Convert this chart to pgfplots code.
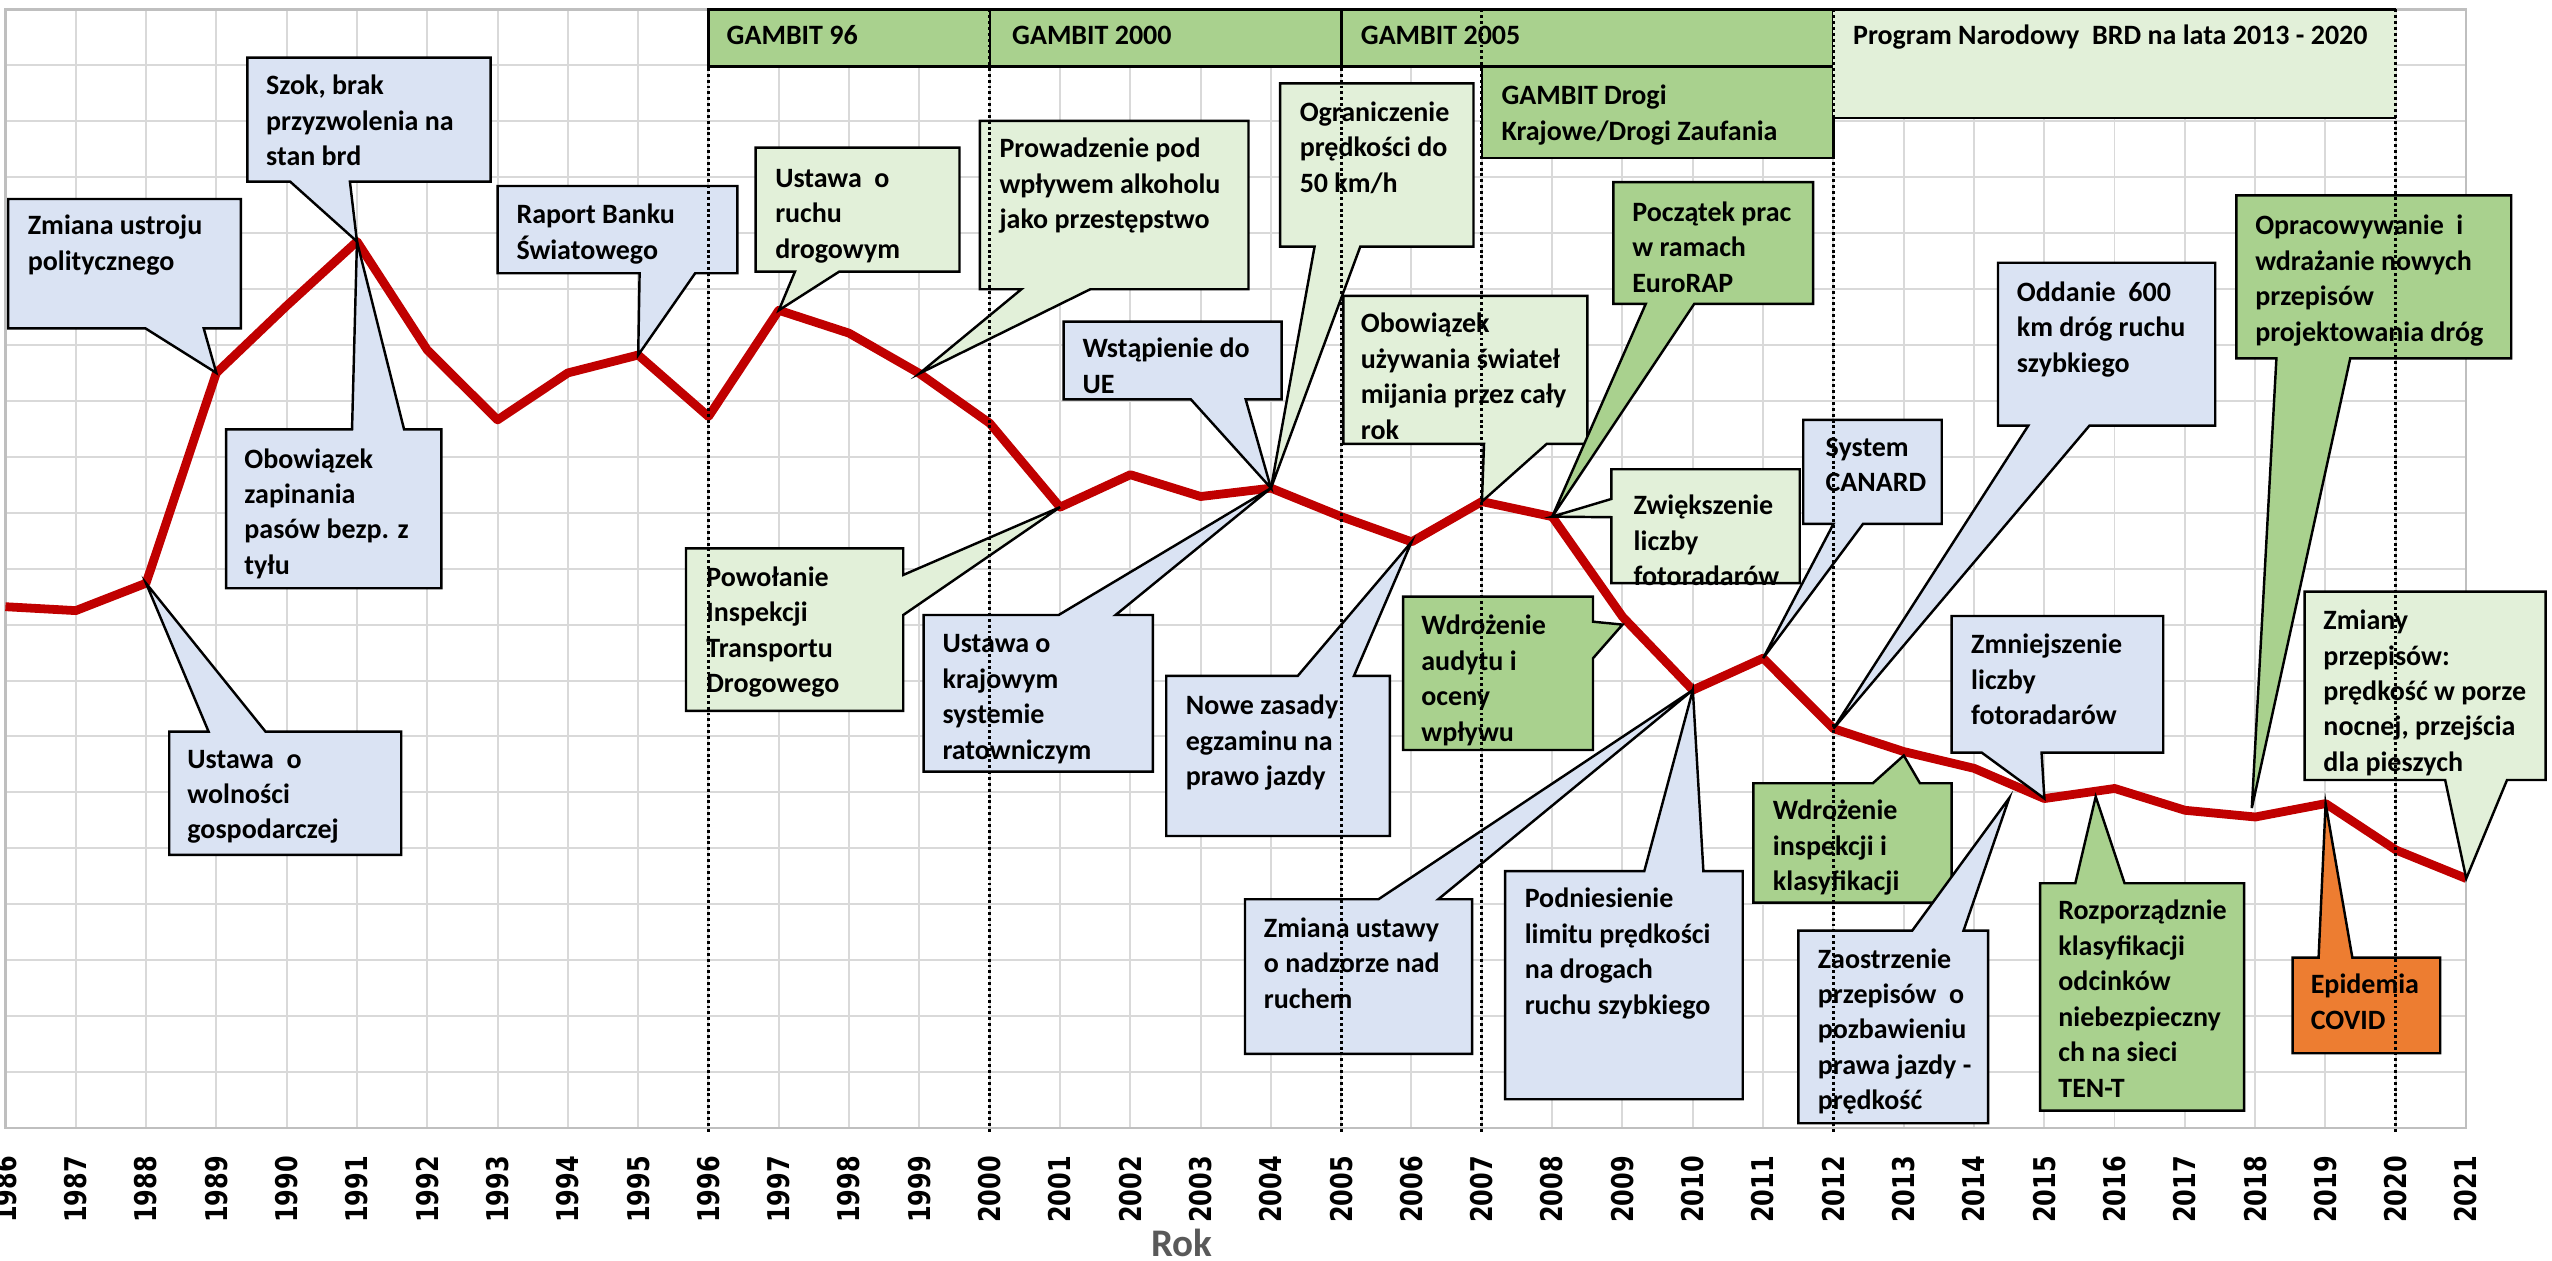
\documentclass[border=0pt]{standalone}
\usepackage{fontspec}
\setmainfont{Carlito}
\newfontfamily\tickfont[FakeStretch=0.8]{DejaVu Sans}
\usepackage{pgfplots}
\pgfplotsset{compat=1.18}
\definecolor{cblue}{HTML}{DAE3F3}
\definecolor{clgreen}{HTML}{E2F0D9}
\definecolor{cgreen}{HTML}{A9D18E}
\definecolor{corange}{HTML}{ED7D31}
\definecolor{cred}{HTML}{C00000}
\definecolor{cgrid}{HTML}{D9D9D9}
\definecolor{crok}{HTML}{595959}
\newcommand{\ctext}[1]{\vtop{\baselineskip=10.9pt\lineskiplimit=-20pt\halign{##\hfil\cr#1\crcr}}}
\begin{document}
\begin{tikzpicture}[
  cbx/.style={draw=black, line width=0.75pt, line join=miter},
  cb/.style={cbx, fill=cblue},
  clg/.style={cbx, fill=clgreen},
  cg/.style={cbx, fill=cgreen},
  co/.style={cbx, fill=corange},
  txt/.style={anchor=base west, inner sep=0pt, font=\bfseries\fontsize{8.6}{10.9}\selectfont},
  dotl/.style={draw=black, line width=0.9pt, dash pattern=on 0.9pt off 0.9pt}
]
\begin{axis}[
  scale only axis,
  width=755.9pt, height=343.6pt,
  xmin=1986, xmax=2021, ymin=0, ymax=10000,
  clip=false,
  xtick={1986,1987,...,2021},
  ytick={0,500,...,10000},
  yticklabels={},
  grid=major,
  grid style={draw=cgrid, line width=0.6pt},
  axis line style={draw=black!25, line width=0.7pt},
  major tick length=0pt,
  xticklabel={\pgfmathprintnumber[assume math mode=true,1000 sep={}]{\tick}},
  xticklabel style={rotate=90, anchor=east, inner sep=0pt, font=\tickfont\bfseries\fontsize{9.2}{10}\selectfont},
  xticklabel shift=8.5pt,
]
\addplot[draw=cred, line width=2.7pt, line join=round, mark=none] coordinates {
(1986,4660) (1987,4625) (1988,4870) (1989,6750) (1990,7350) (1991,7925)
(1992,6955) (1993,6330) (1994,6750) (1995,6910) (1996,6360) (1997,7310)
(1998,7105) (1999,6745) (2000,6300) (2001,5550) (2002,5840) (2003,5645)
(2004,5720) (2005,5465) (2006,5240) (2007,5600) (2008,5465) (2009,4570)
(2010,3915) (2011,4200) (2012,3570) (2013,3365) (2014,3215) (2015,2945)
(2016,3035) (2017,2840) (2018,2780) (2019,2900) (2020,2485) (2021,2230)
};

% top programme boxes
\draw[cg] (1996,10000) rectangle (2000,9488);
\draw[cg] (2000,10000) rectangle (2005,9488);
\draw[cg] (2005,10000) rectangle (2012,9488);
\draw[cg] (2007,9488) rectangle (2012,8672);
\fill[clgreen] (2012,10000) rectangle (2020,9029);
\draw[cbx] (2012,10000) -- (2020,10000);
\draw[cbx] (2012,9029) -- (2020,9029);
\node[txt] at (1996.25,9685) {GAMBIT 96};
\node[txt] at (2000.31,9685) {GAMBIT 2000};
\node[txt] at (2005.27,9685) {GAMBIT 2005};
\node[txt] at (2007.27,9148) {\ctext{GAMBIT Drogi\cr Krajowe/Drogi Zaufania}};
\node[txt] at (2012.27,9685) {Program Narodowy~~BRD na lata 2013 - 2020};

% callouts
\draw[cb] (1986.04,8305) -- (1989.35,8305) -- (1989.35,7149) -- (1988.82,7149) -- (1989,6750) -- (1987.99,7149) -- (1986.04,7149) -- cycle;
\node[txt] at (1986.31,7986) {\ctext{Zmiana ustroju\cr politycznego}};

\draw[cb] (1989.44,9568) -- (1992.9,9568) -- (1992.9,8460) -- (1990.9,8460) -- (1991,7925) -- (1990.05,8460) -- (1989.44,8460) -- cycle;
\node[txt] at (1989.70,9235) {\ctext{Szok, brak\cr przyzwolenia na\cr stan brd}};

\draw[cb] (1993.0,8421) -- (1996.41,8421) -- (1996.41,7641) -- (1995.81,7641) -- (1995,6910) -- (1995.02,7641) -- (1993.0,7641) -- cycle;
\node[txt] at (1993.26,8083) {\ctext{Raport Banku\cr Światowego}};

\draw[clg] (1996.67,8764) -- (1999.57,8764) -- (1999.57,7656) -- (1997.86,7656) -- (1997,7310) -- (1997.23,7656) -- (1996.67,7656) -- cycle;
\node[txt] at (1996.94,8410) {\ctext{Ustawa~~o\cr ruchu\cr drogowym}};

\draw[clg] (1999.86,9003) -- (2003.68,9003) -- (2003.68,7498) -- (2001.43,7498) -- (1999,6745) -- (2000.45,7498) -- (1999.86,7498) -- cycle;
\node[txt] at (2000.13,8672) {\ctext{Prowadzenie pod\cr wpływem alkoholu\cr jako przestępstwo}};

\draw[clg] (2004.13,9339) -- (2006.88,9339) -- (2006.88,7879) -- (2005.27,7879) -- (2004,5720) -- (2004.62,7879) -- (2004.13,7879) -- cycle;
\node[txt] at (2004.40,9000) {\ctext{Ograniczenie\cr prędkości do\cr 50 km/h}};

\draw[cb] (2001.05,7208) -- (2004.15,7208) -- (2004.15,6514) -- (2003.64,6514) -- (2004,5720) -- (2002.86,6514) -- (2001.05,6514) -- cycle;
\node[txt] at (2001.31,6884) {\ctext{Wstąpienie do\cr UE}};

\draw[clg] (2005.03,7438) -- (2008.5,7438) -- (2008.5,6115) -- (2007.92,6115) -- (2007,5600) -- (2007.03,6115) -- (2005.03,6115) -- cycle;
\node[txt] at (2005.27,7107) {\ctext{Obowiązek\cr używania świateł\cr mijania przez cały\cr rok}};

\draw[cg] (2008.87,8455) -- (2011.71,8455) -- (2011.71,7367) -- (2010.02,7367) -- (2008,5465) -- (2009.33,7367) -- (2008.87,7367) -- cycle;
\node[txt] at (2009.13,8106) {\ctext{Początek prac\cr w ramach\cr EuroRAP}};

\draw[cb] (2014.34,7735) -- (2017.43,7735) -- (2017.43,6278) -- (2015.64,6278) -- (2012,3570) -- (2014.77,6278) -- (2014.34,6278) -- cycle;
\node[txt] at (2014.60,7391) {\ctext{Oddanie~~600\cr km dróg ruchu\cr szybkiego}};

\draw[cg] (2017.73,8338) -- (2021.64,8338) -- (2021.64,6880) -- (2019.35,6880) -- (2017.95,2860) -- (2018.3,6880) -- (2017.73,6880) -- cycle;
\node[txt] at (2017.99,7986) {\ctext{Opracowywanie~~i\cr wdrażanie nowych\cr przepisów\cr projektowania dróg}};

\draw[cb] (2011.57,6330) -- (2013.54,6330) -- (2013.54,5400) -- (2012.42,5400) -- (2011,4200) -- (2012.0,5400) -- (2011.57,5400) -- cycle;
\node[txt] at (2011.88,6005) {\ctext{System\cr CANARD}};

\draw[clg] (2008.84,5889) -- (2011.52,5889) -- (2011.52,4870) -- (2008.84,4870) -- (2008.84,5460) -- (2008,5465) -- (2008.84,5623) -- cycle;
\node[txt] at (2009.15,5483) {\ctext{Zwiększenie\cr liczby\cr fotoradarów}};

\draw[cg] (2005.88,4750) -- (2008.58,4750) -- (2008.58,4526) -- (2009.0,4500) -- (2008.58,4199) -- (2008.58,3379) -- (2005.88,3379) -- cycle;
\node[txt] at (2006.13,4411) {\ctext{Wdrożenie\cr audytu i\cr oceny\cr wpływu}};

\draw[cb] (1989.14,6246) -- (1990.93,6246) -- (1991,7925) -- (1991.67,6246) -- (1992.2,6246) -- (1992.2,4825) -- (1989.14,4825) -- cycle;
\node[txt] at (1989.39,5900) {\ctext{Obowiązek\cr zapinania\cr pasów bezp. z\cr tyłu}};

\draw[cb] (1988.33,3543) -- (1988.89,3543) -- (1988,4870) -- (1989.7,3543) -- (1991.63,3543) -- (1991.63,2441) -- (1988.33,2441) -- cycle;
\node[txt] at (1988.58,3218) {\ctext{Ustawa~~o\cr wolności\cr gospodarczej}};

\draw[clg] (1995.68,5182) -- (1998.77,5182) -- (1998.77,4944) -- (2001,5550) -- (1998.77,4586) -- (1998.77,3728) -- (1995.68,3728) -- cycle;
\node[txt] at (1995.96,4843) {\ctext{Powołanie\cr Inspekcji\cr Transportu\cr Drogowego}};

\draw[cb] (1999.06,4586) -- (2000.98,4586) -- (2004,5720) -- (2001.79,4586) -- (2002.32,4586) -- (2002.32,3185) -- (1999.06,3185) -- cycle;
\node[txt] at (1999.32,4247) {\ctext{Ustawa o\cr krajowym\cr systemie\cr ratowniczym}};

\draw[cb] (2002.51,4041) -- (2004.38,4041) -- (2006,5240) -- (2005.18,4041) -- (2005.69,4041) -- (2005.69,2610) -- (2002.51,2610) -- cycle;
\node[txt] at (2002.78,3695) {\ctext{Nowe zasady\cr egzaminu na\cr prawo jazdy}};

\draw[cb] (2003.63,2045) -- (2005.53,2045) -- (2010,3915) -- (2006.38,2045) -- (2006.86,2045) -- (2006.86,662) -- (2003.63,662) -- cycle;
\node[txt] at (2003.89,1705) {\ctext{Zmiana ustawy\cr o nadzorze nad\cr ruchem}};

\draw[cb] (2007.33,2297) -- (2009.31,2297) -- (2010,3915) -- (2010.15,2297) -- (2010.71,2297) -- (2010.71,257) -- (2007.33,257) -- cycle;
\node[txt] at (2007.60,1967) {\ctext{Podniesienie\cr limitu prędkości\cr na drogach\cr ruchu szybkiego}};

\draw[cg] (2010.86,3082) -- (2012.56,3082) -- (2013.0,3330) -- (2013.23,3082) -- (2013.68,3082) -- (2013.68,2014) -- (2010.86,2014) -- cycle;
\node[txt] at (2011.13,2756) {\ctext{Wdrożenie\cr inspekcji i\cr klasyfikacji}};

\draw[cb] (2011.5,1764) -- (2013.12,1764) -- (2014.5,2950) -- (2013.85,1764) -- (2014.2,1764) -- (2014.2,42) -- (2011.5,42) -- cycle;
\node[txt] at (2011.77,1430) {\ctext{Zaostrzenie\cr przepisów~~o\cr pozbawieniu\cr prawa jazdy -\cr prędkość}};

\draw[cb] (2013.68,4577) -- (2016.69,4577) -- (2016.69,3355) -- (2014.96,3355) -- (2015,2945) -- (2014.11,3355) -- (2013.68,3355) -- cycle;
\node[txt] at (2013.95,4238) {\ctext{Zmniejszenie\cr liczby\cr fotoradarów}};

\draw[cg] (2014.94,2188) -- (2015.44,2188) -- (2015.73,2962) -- (2016.14,2188) -- (2017.84,2188) -- (2017.84,155) -- (2014.94,155) -- cycle;
\node[txt] at (2015.19,1862) {\ctext{Rozporządznie\cr klasyfikacji\cr odcinków\cr niebezpieczny\cr ch na sieci\cr TEN-T}};

\draw[co] (2018.53,1523) -- (2018.9,1523) -- (2019,2900) -- (2019.38,1523) -- (2020.63,1523) -- (2020.63,668) -- (2018.53,668) -- cycle;
\node[txt] at (2018.78,1198) {\ctext{Epidemia\cr COVID}};

\draw[clg] (2018.7,4795) -- (2022.13,4795) -- (2022.13,3111) -- (2021.58,3111) -- (2021,2230) -- (2020.7,3111) -- (2018.7,3111) -- cycle;
\node[txt] at (2018.96,4456) {\ctext{Zmiany\cr przepisów:\cr prędkość w porze\cr nocnej, przejścia\cr dla pieszych}};

% dotted year markers
\draw[dotl] (1996,10000) -- (1996,-55);
\draw[dotl] (2000,10000) -- (2000,-55);
\draw[dotl] (2005,10000) -- (2005,-55);
\draw[dotl] (2007,10000) -- (2007,-55);
\draw[dotl] (2012,10000) -- (2012,-55);
\draw[dotl] (2020,10000) -- (2020,-55);

% axis title
\node[anchor=base, inner sep=0pt, text=crok, font=\bfseries\fontsize{12}{14}\selectfont] at (2002.73,-1151) {Rok};

\coordinate (BBsw) at (1985.923,-1189);
\coordinate (BBne) at (2022.22,10084);
\end{axis}
\pgfresetboundingbox
\useasboundingbox (BBsw) rectangle (BBne);
\end{tikzpicture}
\end{document}
